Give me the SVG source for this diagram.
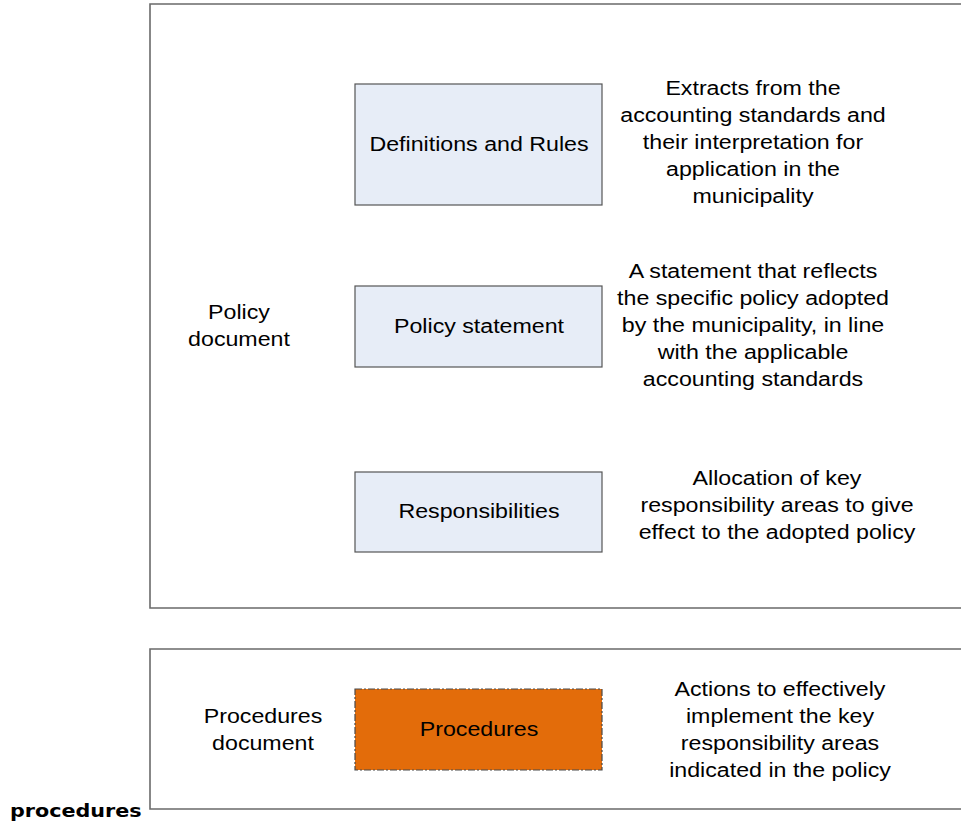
<svg xmlns="http://www.w3.org/2000/svg" width="961" height="823" viewBox="0 0 961 823">
<style>
.frame{fill:none;stroke:#6a6a6a;stroke-width:1.6}
.box{fill:#E7EDF7;stroke:#555;stroke-width:1.2}
.proc{fill:#E36C0A;stroke:#4a4a4a;stroke-width:1.2;stroke-dasharray:7 2 2 2}
.t{font-family:"Liberation Sans",Arial,sans-serif;font-size:20px;fill:#000;text-anchor:middle}
.b{font-family:"DejaVu Sans",Verdana,sans-serif;font-size:18px;font-weight:bold;fill:#000}
</style>
<rect x="0" y="0" width="961" height="823" fill="#fff"/>
<g id="policy-frame">
<path class="frame" d="M965,4 H150 V608 H965"/>
<g transform="translate(239,0) scale(1.16,1)"><text class="t" x="0"><tspan x="0" y="319">Policy</tspan><tspan x="0" y="346">document</tspan></text></g>
</g>
<g id="procedures-frame">
<path class="frame" d="M965,649 H150 V809 H965"/>
<g transform="translate(263,0) scale(1.16,1)"><text class="t" x="0"><tspan x="0" y="723">Procedures</tspan><tspan x="0" y="750">document</tspan></text></g>
</g>
<g id="node-definitions">
<rect class="box" x="355" y="84" width="247" height="121"/>
<g transform="translate(479,0) scale(1.16,1)"><text class="t" x="0" y="151">Definitions and Rules</text></g>
</g>
<g id="desc-definitions">
<g transform="translate(753,0) scale(1.16,1)"><text class="t" x="0"><tspan x="0" y="95">Extracts from the</tspan><tspan x="0" y="122">accounting standards and</tspan><tspan x="0" y="149">their interpretation for</tspan><tspan x="0" y="176">application in the</tspan><tspan x="0" y="203">municipality</tspan></text></g>
</g>
<g id="node-policy-statement">
<rect class="box" x="355" y="286" width="247" height="81"/>
<g transform="translate(479,0) scale(1.16,1)"><text class="t" x="0" y="333">Policy statement</text></g>
</g>
<g id="desc-policy-statement">
<g transform="translate(753,0) scale(1.16,1)"><text class="t" x="0"><tspan x="0" y="278">A statement that reflects</tspan><tspan x="0" y="305">the specific policy adopted</tspan><tspan x="0" y="332">by the municipality, in line</tspan><tspan x="0" y="359">with the applicable</tspan><tspan x="0" y="386">accounting standards</tspan></text></g>
</g>
<g id="node-responsibilities">
<rect class="box" x="355" y="472" width="247" height="80"/>
<g transform="translate(479,0) scale(1.16,1)"><text class="t" x="0" y="518">Responsibilities</text></g>
</g>
<g id="desc-responsibilities">
<g transform="translate(777,0) scale(1.16,1)"><text class="t" x="0"><tspan x="0" y="485">Allocation of key</tspan><tspan x="0" y="512">responsibility areas to give</tspan><tspan x="0" y="539">effect to the adopted policy</tspan></text></g>
</g>
<g id="node-procedures">
<rect class="proc" x="355" y="689" width="247" height="81"/>
<g transform="translate(479,0) scale(1.16,1)"><text class="t" x="0" y="736">Procedures</text></g>
</g>
<g id="desc-procedures">
<g transform="translate(780,0) scale(1.16,1)"><text class="t" x="0"><tspan x="0" y="696">Actions to effectively</tspan><tspan x="0" y="723">implement the key</tspan><tspan x="0" y="750">responsibility areas</tspan><tspan x="0" y="777">indicated in the policy</tspan></text></g>
</g>
<g id="label-procedures">
<g transform="translate(10,817) scale(1.15,1)"><text class="b" x="0" y="0">procedures</text></g>
</g>
<g id="connectors"></g>
</svg>
